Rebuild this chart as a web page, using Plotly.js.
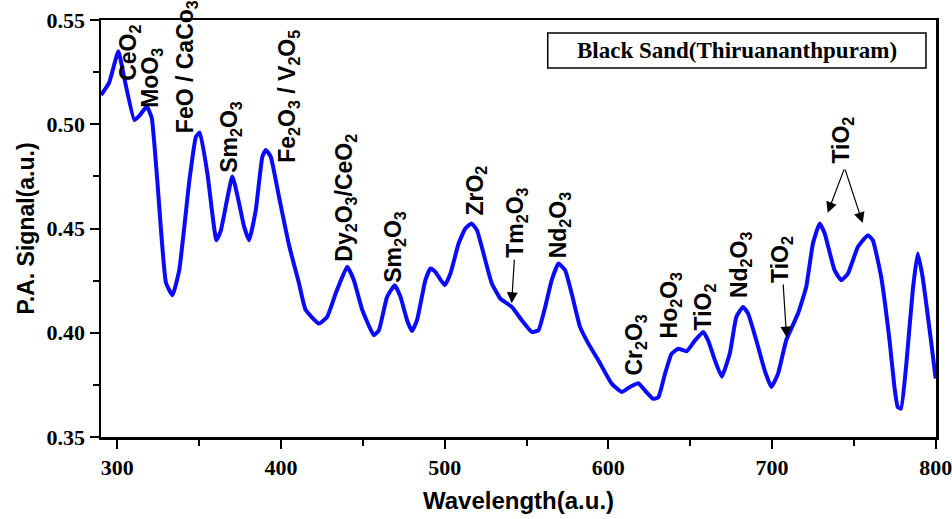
<!DOCTYPE html>
<html>
<head>
<meta charset="utf-8">
<script src="https://cdn.plot.ly/plotly-3.0.1.min.js"></script>
<style>html,body{margin:0;padding:0;background:#fff;}#chart{width:952px;height:519px;}</style>
</head>
<body>
<div id="chart"></div>
<script>
// Wavelength (a.u.)
var wavelength = [290, 295, 300.6, 304, 310.4, 313.4, 318, 321, 324.4, 329.7, 333.7, 337.8, 344, 348, 350.4, 355, 360.5, 363.2, 370.3, 374.4, 377.4, 380.5, 384.6, 388.6, 390.7, 393.7, 398.8, 404.9, 411, 415, 423.2, 428.2, 433.4, 440.4, 444.5, 449.6, 456.7, 459.8, 464.8, 469.5, 473, 477, 480, 483.1, 488.2, 491.3, 494.3, 500, 503.5, 508.5, 512.6, 516.3, 519.7, 524.8, 528.8, 534, 541, 547.1, 553.2, 557.3, 561.4, 565.4, 569.5, 573.6, 577.6, 582.7, 587.8, 593.9, 602, 608.1, 613.2, 618.3, 622.4, 627.4, 630.5, 634.6, 638.6, 642.7, 647.8, 652.9, 658, 661, 665.1, 669.3, 674.2, 678.2, 682.3, 685.4, 690.4, 695.5, 699.6, 703.7, 708.7, 715.9, 720.9, 725, 729.1, 732.2, 738.2, 742.3, 746.4, 752.5, 758.6, 761.6, 766.7, 771.8, 774.8, 776.8, 778.8, 781.9, 786, 789, 792, 797.1, 800];
// P.A. Signal (a.u.)
var paSignal = [0.514, 0.520, 0.535, 0.523, 0.502, 0.504, 0.5085, 0.503, 0.473, 0.424, 0.418, 0.430, 0.473, 0.494, 0.496, 0.4765, 0.4444, 0.449, 0.475, 0.462, 0.451, 0.4444, 0.459, 0.4845, 0.4877, 0.4845, 0.465, 0.442, 0.4236, 0.411, 0.4044, 0.4076, 0.4188, 0.4316, 0.4252, 0.411, 0.3988, 0.4012, 0.4172, 0.4228, 0.4172, 0.406, 0.4008, 0.406, 0.4252, 0.4308, 0.4292, 0.4228, 0.4284, 0.4428, 0.450, 0.4524, 0.4492, 0.4348, 0.4236, 0.4164, 0.4124, 0.406, 0.4004, 0.4012, 0.4124, 0.4252, 0.4332, 0.430, 0.4188, 0.4028, 0.3948, 0.3868, 0.3756, 0.3716, 0.374, 0.3758, 0.3723, 0.3683, 0.369, 0.3803, 0.3899, 0.3923, 0.3911, 0.3963, 0.4004, 0.3963, 0.3868, 0.3789, 0.390, 0.4076, 0.4124, 0.4092, 0.3964, 0.382, 0.374, 0.3804, 0.3964, 0.4092, 0.422, 0.4428, 0.4524, 0.4476, 0.430, 0.4252, 0.4284, 0.4412, 0.4468, 0.4444, 0.4268, 0.3964, 0.374, 0.3644, 0.3636, 0.3836, 0.4204, 0.438, 0.4268, 0.3964, 0.378];

var xTickVals = [300, 400, 500, 600, 700, 800];
var yTickVals = [0.35, 0.40, 0.45, 0.50, 0.55];
var yTickText = ['0.35', '0.40', '0.45', '0.50', '0.55'];

// Peak labels (label text, x, y of label centre)
var peakLabels = ['CeO<sub>2</sub>', 'MoO<sub>3</sub>', 'FeO / CaCo<sub>3</sub>', 'Sm<sub>2</sub>O<sub>3</sub>', 'Fe<sub>2</sub>O<sub>3</sub> / V<sub>2</sub>O<sub>5</sub>', 'Dy<sub>2</sub>O<sub>3</sub>/CeO<sub>2</sub>', 'Sm<sub>2</sub>O<sub>3</sub>', 'ZrO<sub>2</sub>', 'Nd<sub>2</sub>O<sub>3</sub>', 'Cr<sub>2</sub>O<sub>3</sub>', 'Ho<sub>2</sub>O<sub>3</sub>', 'TiO<sub>2</sub>', 'Nd<sub>2</sub>O<sub>3</sub>', 'TiO<sub>2</sub>'];
var peakLabelX = [307.3, 320.7, 342.7, 369.5, 404.9, 439.6, 468.9, 519.5, 570.7, 616.5, 637.8, 658.5, 681.1, 743.2];
var peakLabelY = [0.5344, 0.5224, 0.5275, 0.494, 0.5132, 0.4647, 0.4411, 0.468, 0.4517, 0.394, 0.4132, 0.4122, 0.4325, 0.4925];

// Arrowed labels (head positions)
var arrowLabels = ['Tm<sub>2</sub>O<sub>3</sub>', 'TiO<sub>2</sub>', '', ''];
var arrowHeadX = [540.9, 708.9, 734.0, 755.4];
var arrowHeadY = [0.4142, 0.3978, 0.4575, 0.4526];
var arrowAX = [5, -5, 17, -18];
var arrowAY = [-80, -78, -45, -55];

var labelFont = {family: 'Liberation Sans, Arial, sans-serif', size: 23, color: '#000'};
var annotations = [];
for (var i = 0; i < peakLabels.length; i++) {
  annotations.push({
    x: peakLabelX[i], y: peakLabelY[i], xref: 'x', yref: 'y',
    text: '<b>' + peakLabels[i] + '</b>', textangle: -90, showarrow: false,
    xanchor: 'center', yanchor: 'middle', font: labelFont
  });
}
for (var j = 0; j < arrowLabels.length; j++) {
  annotations.push({
    x: arrowHeadX[j], y: arrowHeadY[j], xref: 'x', yref: 'y',
    text: arrowLabels[j] ? '<b>' + arrowLabels[j] + '</b>' : '',
    textangle: -90, showarrow: true, arrowhead: 2, arrowsize: 1.8, arrowwidth: 1.2,
    arrowcolor: '#000', ax: arrowAX[j], ay: arrowAY[j], standoff: 0, startstandoff: 0,
    font: labelFont
  });
}
annotations.push({
  xref: 'paper', yref: 'paper', x: 0.762, y: 0.928, xanchor: 'center', yanchor: 'middle',
  text: '<b>Black Sand(Thiruananthpuram)</b>', showarrow: false,
  font: {family: 'Liberation Serif, Times New Roman, serif', size: 23, color: '#000'}
});

var trace = {
  x: wavelength, y: paSignal, type: 'scatter', mode: 'lines',
  line: {color: '#0a0aff', width: 4, shape: 'spline', smoothing: 0.4},
  hoverinfo: 'skip', cliponaxis: true
};

var tickFont = {family: 'Liberation Serif, Times New Roman, serif', size: 22, color: '#000', weight: 'bold'};
var layout = {
  width: 952, height: 519,
  margin: {l: 101, r: 16, t: 20, b: 82},
  paper_bgcolor: '#fff', plot_bgcolor: '#fff',
  showlegend: false,
  xaxis: {
    range: [290, 800.2], tickvals: xTickVals, ticktext: xTickVals.map(function (v) { return '<b>' + v + '</b>'; }),
    ticks: 'outside', ticklen: 9, tickwidth: 2, tickcolor: '#000',
    minor: {tickvals: [350, 450, 550, 650, 750], ticks: 'outside', ticklen: 6, tickwidth: 2, tickcolor: '#000'},
    showline: true, linecolor: '#000', linewidth: 2.5, mirror: true,
    showgrid: false, zeroline: false, tickfont: tickFont, ticklabeloverflow: 'allow',
    title: {text: '<b>Wavelength(a.u.)</b>', font: {family: 'Liberation Sans, Arial, sans-serif', size: 24, color: '#000'}, standoff: 14}
  },
  yaxis: {
    range: [0.35, 0.55], tickvals: yTickVals, ticktext: yTickText.map(function (v) { return '<b>' + v + '</b>'; }),
    ticks: 'outside', ticklen: 9, tickwidth: 2, tickcolor: '#000',
    minor: {dtick: 0.025, tick0: 0.35, ticks: 'outside', ticklen: 6, tickwidth: 2, tickcolor: '#000'},
    showline: true, linecolor: '#000', linewidth: 2.5, mirror: true,
    showgrid: false, zeroline: false, tickfont: tickFont,
    title: {text: '<b>P.A. Signal(a.u.)</b>', font: {family: 'Liberation Sans, Arial, sans-serif', size: 23, color: '#000'}, standoff: 6}
  },
  shapes: [{
    type: 'rect', xref: 'paper', yref: 'paper', x0: 0.535, x1: 0.988, y0: 0.885, y1: 0.969,
    line: {color: '#000', width: 1.5}, fillcolor: 'rgba(0,0,0,0)'
  }],
  annotations: annotations
};

Plotly.newPlot('chart', [trace], layout, {displayModeBar: false, staticPlot: true});
</script>
</body>
</html>
